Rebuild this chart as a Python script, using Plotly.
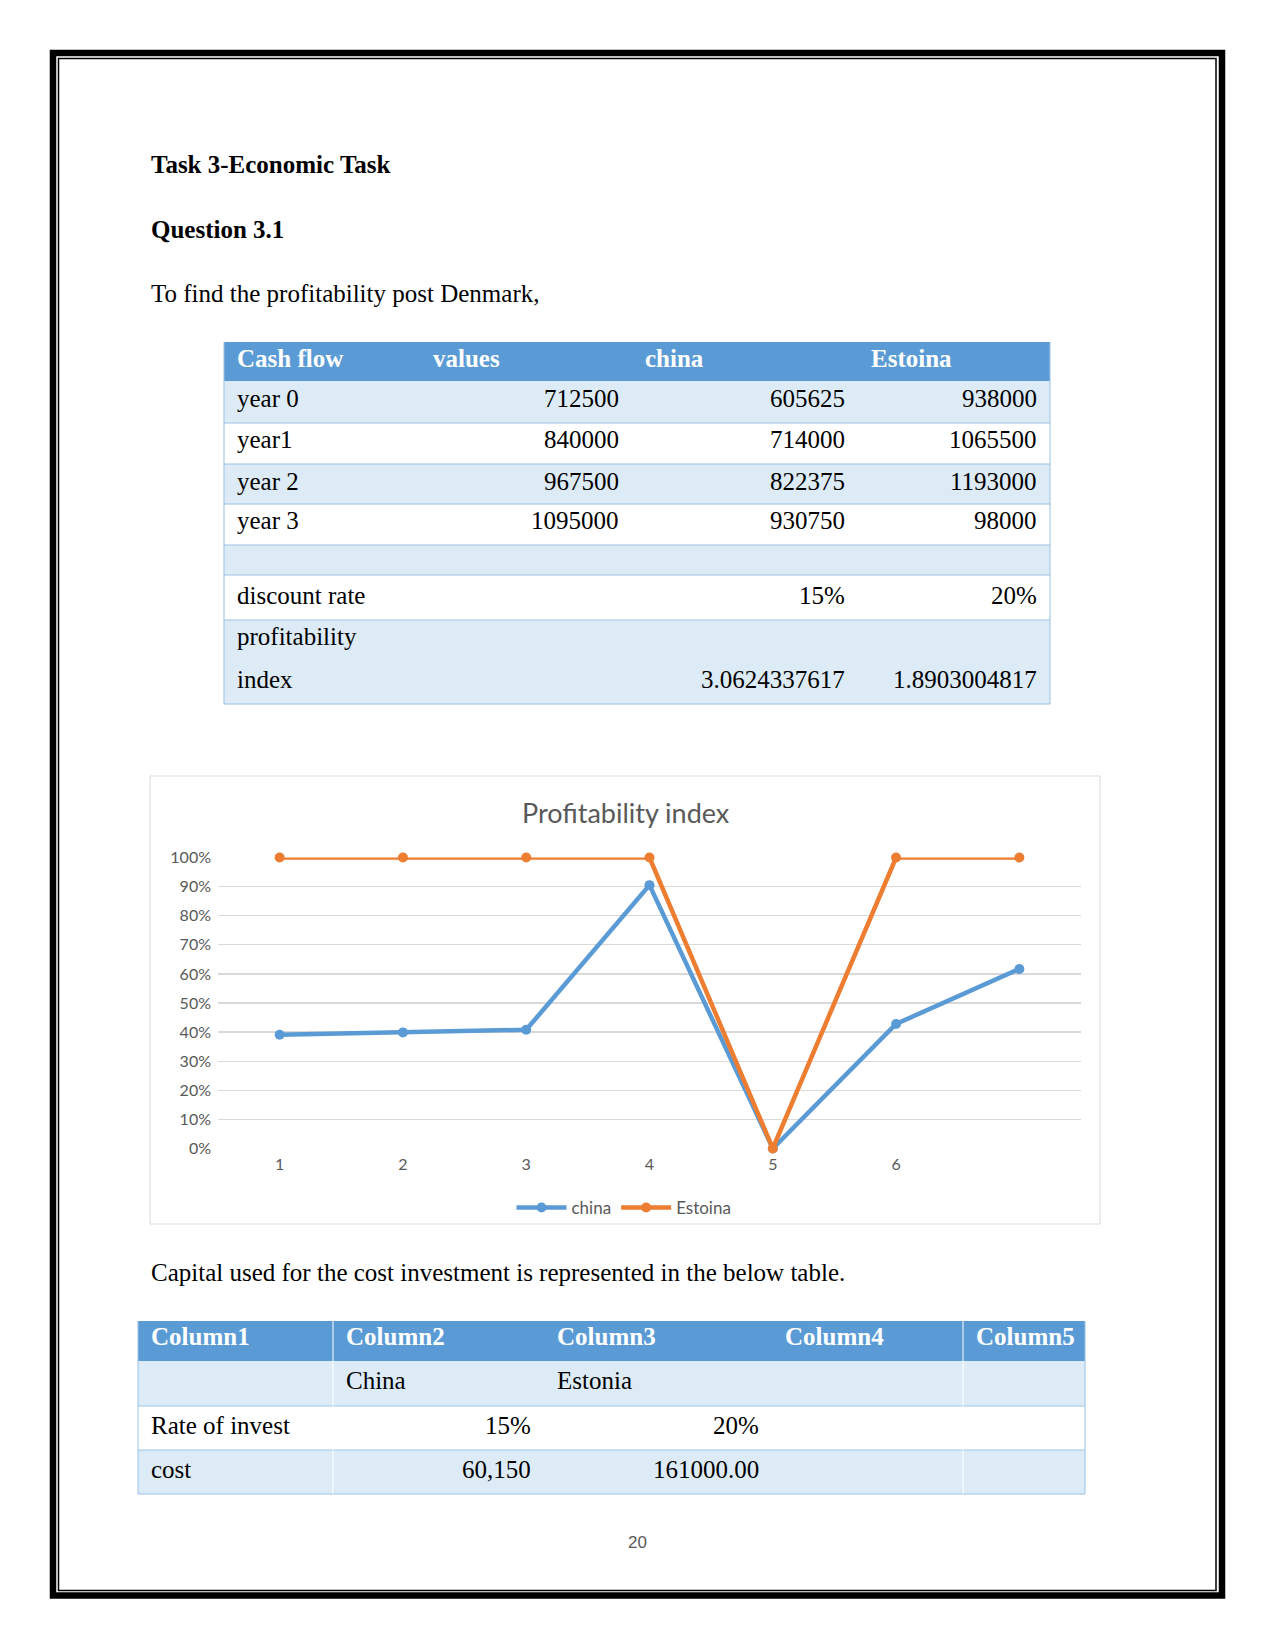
import plotly.graph_objects as go

W, H = 1275, 1650


def X(px):
    return px / W


def Y(py):
    return 1 - py / H


# ---------------- data ----------------
period_labels = ["1", "2", "3", "4", "5", "6", ""]
china_pi = [0.391, 0.399, 0.408, 0.905, 0.0, 0.428, 0.617]
estoina_pi = [1.0, 1.0, 1.0, 1.0, 0.0, 1.0, 1.0]

t1_header = ["Cash flow", "values", "china", "Estoina"]
t1_years = ["year 0", "year1", "year 2", "year 3"]
t1_values = [712500, 840000, 967500, 1095000]
t1_china = [605625, 714000, 822375, 930750]
t1_estoina = [938000, 1065500, 1193000, 98000]
discount_label = "discount rate"
discount_rates = ["15%", "20%"]
pi_label = ["profitability", "index"]
pi_values = ["3.0624337617", "1.8903004817"]

t2_header = ["Column1", "Column2", "Column3", "Column4", "Column5"]
t2_row_labels = ["", "Rate of invest", "cost"]
t2_china = ["China", "15%", "60,150"]
t2_estonia = ["Estonia", "20%", "161000.00"]

# ---------------- styles ----------------
SERIF = "Liberation Serif, Times New Roman, serif"
SANS = "Lato, Open Sans, sans-serif"
BLUE = "#5B9BD5"
ORANGE = "#ED7D31"
BAND = "#DDEBF7"
EDGE = "#9BC2E6"
GREY = "#595959"
GRID = "#D9D9D9"
BODY = 25

fig = go.Figure()
shapes = []
ann = []


def text(x, y, s, size=BODY, family=SERIF, color="black", anchor="left", bold=False):
    ann.append(dict(
        x=X(x), y=Y(y), xref="paper", yref="paper", text=("<b>%s</b>" % s) if bold else s,
        showarrow=False, xanchor=anchor, yanchor="middle",
        font=dict(family=family, size=size, color=color), borderpad=0,
    ))


def rect(x0, y0, x1, y1, fill=None, line=None, lw=1, layer="below"):
    shapes.append(dict(
        type="rect", xref="paper", yref="paper", x0=X(x0), x1=X(x1), y0=Y(y0), y1=Y(y1),
        fillcolor=fill if fill else "rgba(0,0,0,0)",
        line=dict(color=line if line else "rgba(0,0,0,0)", width=lw if line else 0),
        layer=layer,
    ))


def hline(x0, x1, y, color, lw=1):
    shapes.append(dict(type="line", xref="paper", yref="paper", x0=X(x0), x1=X(x1),
                       y0=Y(y), y1=Y(y), line=dict(color=color, width=lw), layer="above"))


def vline(x, y0, y1, color, lw=1):
    shapes.append(dict(type="line", xref="paper", yref="paper", x0=X(x), x1=X(x),
                       y0=Y(y0), y1=Y(y1), line=dict(color=color, width=lw), layer="above"))


# ---------------- page border ----------------
rect(53, 53, 1222, 1595.5, line="black", lw=6.5, layer="above")
rect(58.5, 58.5, 1216, 1590.5, line="black", lw=1.5, layer="above")

# ---------------- headings ----------------
text(150, 165, "Task 3-Economic Task", bold=True)
text(150, 229, "Question 3.1", bold=True)
text(150, 293, "To find the profitability post Denmark,")

# ---------------- table 1 ----------------
c1 = [224, 420, 632, 858, 1050]
PAD = 12
rows = []
rows.append(dict(h=39, fill=BLUE, lines=[(16, [(t1_header[0], "l"), (t1_header[1], "l"), (t1_header[2], "l"), (t1_header[3], "l")])], head=True))
for i, yr in enumerate(t1_years):
    rows.append(dict(h=[42, 41, 40, 41][i], fill=BAND if i % 2 == 0 else "white",
                     lines=[(17, [(yr, "l"), (str(t1_values[i]), "r"), (str(t1_china[i]), "r"), (str(t1_estoina[i]), "r")])]))
rows.append(dict(h=30, fill=BAND, lines=[]))
rows.append(dict(h=45, fill="white", lines=[(20, [(discount_label, "l"), ("", "r"), (discount_rates[0], "r"), (discount_rates[1], "r")])]))
rows.append(dict(h=84, fill=BAND, lines=[(16, [(pi_label[0], "l"), ("", "r"), ("", "r"), ("", "r")]),
                                          (59, [(pi_label[1], "l"), ("", "r"), (pi_values[0], "r"), (pi_values[1], "r")])]))

top = 342
for r in rows:
    bot = top + r["h"]
    rect(c1[0], top, c1[-1], bot, fill=r["fill"])
    if not r.get("head"):
        hline(c1[0], c1[-1], bot, EDGE)
    for off, cells in r["lines"]:
        for j, (s, al) in enumerate(cells):
            if not s:
                continue
            if r.get("head"):
                text(c1[j] + PAD, top + off, s, color="white", bold=True)
            elif al == "l":
                text(c1[j] + PAD, top + off, s)
            else:
                text(c1[j + 1] - PAD, top + off, s, anchor="right")
    top = bot
vline(c1[0], 342, top, EDGE)
vline(c1[-1], 342, top, EDGE)

# ---------------- chart ----------------
rect(150, 776, 1100, 1224, line=GRID, lw=1)
text(626, 813, "Profitability index", size=27, family=SANS, color=GREY, anchor="center")

xpos = list(range(1, len(period_labels) + 1))
fig.add_trace(go.Scatter(x=xpos, y=china_pi, name="china", mode="lines+markers",
                         line=dict(color=BLUE, width=4.5), marker=dict(size=10, color=BLUE),
                         cliponaxis=False))
fig.add_trace(go.Scatter(x=xpos, y=estoina_pi, name="Estoina", mode="lines+markers",
                         line=dict(color=ORANGE, width=4.5), marker=dict(size=10, color=ORANGE),
                         cliponaxis=False))

fig.update_xaxes(domain=[X(218), X(1081)], range=[0.5, len(period_labels) + 0.5],
                 tickvals=xpos, ticktext=period_labels, showgrid=False, zeroline=False,
                 showline=False, ticks="", ticklabelstandoff=4, automargin=False,
                 tickfont=dict(family=SANS, size=16, color=GREY), fixedrange=True)
fig.update_yaxes(domain=[Y(1148.5), Y(857.5)], range=[0, 1], dtick=0.1, tickformat=".0%",
                 showgrid=True, gridcolor=GRID, gridwidth=1.2, zeroline=False, showline=False,
                 ticks="", ticklabelstandoff=6, automargin=False,
                 tickfont=dict(family=SANS, size=16, color=GREY), fixedrange=True)

# ---------------- paragraph ----------------
text(150, 1272, "Capital used for the cost investment is represented in the below table.")

# ---------------- table 2 ----------------
c2 = [138, 333, 544, 772, 963, 1085]
t2_tops = [1321, 1361, 1406, 1450, 1494]
t2_off = [15, 19, 19, 19]
t2_fill = [BLUE, BAND, "white", BAND]
for k in range(4):
    rect(c2[0], t2_tops[k], c2[-1], t2_tops[k + 1], fill=t2_fill[k])
    if k > 0:
        hline(c2[0], c2[-1], t2_tops[k + 1], EDGE)
for j, s in enumerate(t2_header):
    text(c2[j] + PAD, t2_tops[0] + t2_off[0], s, color="white", bold=True)
for i in range(3):
    yy = t2_tops[i + 1] + t2_off[i + 1]
    if t2_row_labels[i]:
        text(c2[0] + PAD, yy, t2_row_labels[i])
    if i == 0:
        text(c2[1] + PAD, yy, t2_china[i])
        text(c2[2] + PAD, yy, t2_estonia[i])
    else:
        text(c2[2] - PAD, yy, t2_china[i], anchor="right")
        text(c2[3] - PAD, yy, t2_estonia[i], anchor="right")
for xv in (c2[1], c2[4]):
    vline(xv, t2_tops[0], t2_tops[-1], "white")
vline(c2[0], t2_tops[0], t2_tops[-1], EDGE)
vline(c2[-1], t2_tops[0], t2_tops[-1], EDGE)

# ---------------- page number ----------------
text(637, 1542, "20", size=17, family="Liberation Sans, Arial, sans-serif", color=GREY, anchor="center")

fig.update_layout(
    width=W, height=H, autosize=False,
    margin=dict(l=0, r=0, t=0, b=0, pad=0, autoexpand=False),
    paper_bgcolor="white", plot_bgcolor="white", showlegend=True,
    legend=dict(orientation="h", x=X(624), xanchor="center", y=Y(1208), yanchor="middle",
                font=dict(family=SANS, size=17, color=GREY), bgcolor="rgba(0,0,0,0)",
                itemwidth=50),
    shapes=shapes, annotations=ann,
)

fig.write_html(
    "out.html",
    config={"displayModeBar": False, "staticPlot": True},
    post_script="document.body.style.margin='0';document.body.style.overflow='hidden';"
                "document.documentElement.style.overflow='hidden';",
)
